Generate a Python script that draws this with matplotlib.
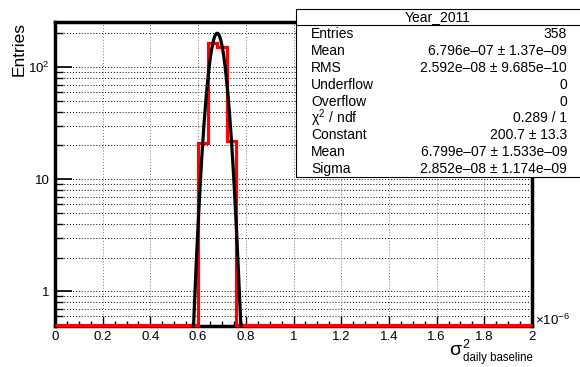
import numpy as np
import matplotlib
matplotlib.use("Agg")
import matplotlib.pyplot as plt
from matplotlib.patches import Rectangle
from matplotlib.lines import Line2D
from matplotlib.ticker import FixedLocator, NullFormatter

plt.rcParams['font.family'] = ['Liberation Sans', 'DejaVu Sans']
plt.rcParams['mathtext.fontset'] = 'custom'
plt.rcParams['mathtext.rm'] = 'Liberation Sans'
plt.rcParams['mathtext.it'] = 'Liberation Sans'
plt.rcParams['mathtext.bf'] = 'Liberation Sans:bold'

# ---- histogram data (x in units of 1e-6) ----
n_bins = 50
x_range = (0.0, 2.0)
filled_bin_first = 15            # bins 15..18 hold the entries
filled_counts = [21, 163, 152, 22]

# ---- gaussian fit result ----
fit_constant = 200.7
fit_mean = 6.799e-07
fit_sigma = 2.852e-08
fit_range = (0.58e-06, 0.78e-06)

# ---- statistics box ----
stats_title = "Year_2011"
stats_labels = ["Entries", "Mean", "RMS", "Underflow", "Overflow",
                r"$\chi^{2}$ / ndf", "Constant", "Mean", "Sigma"]
stats_values = ["358", "6.796e\u201307 \u00b1 1.37e\u201309",
                "2.592e\u201308 \u00b1 9.685e\u201310", "0", "0", "0.289 / 1",
                "200.7 \u00b1 13.3", "6.799e\u201307 \u00b1 1.533e\u201309",
                "2.852e\u201308 \u00b1 1.174e\u201309"]

x_ticks = [0, 0.2, 0.4, 0.6, 0.8, 1, 1.2, 1.4, 1.6, 1.8, 2]
x_ticklabels = ["0", "0.2", "0.4", "0.6", "0.8", "1", "1.2", "1.4", "1.6", "1.8", "2"]
y_ticks = [1, 10, 100]
y_ticklabels = ["1", "10", r"$10^{2}$"]

W, H = 580, 367
fig = plt.figure(figsize=(W / 100, H / 100), dpi=100)


def fx(px):
    return px / W


def fy(py):
    return 1 - py / H


ax_l, ax_r, ax_t, ax_b = 55, 532, 22, 326
ax = fig.add_axes([fx(ax_l), fy(ax_b), fx(ax_r - ax_l), (ax_b - ax_t) / H])

ymin, ymax = 0.49, 253
ax.set_xlim(*x_range)
ax.set_yscale('log')
ax.set_ylim(ymin, ymax)

# histogram: empty bins are drawn along the lower edge of the frame
counts = np.zeros(n_bins)
counts[filled_bin_first:filled_bin_first + len(filled_counts)] = filled_counts
edges = np.linspace(x_range[0], x_range[1], n_bins + 1)
drawn = np.where(counts > 0, counts, ymin * 1.02)
ax.stairs(drawn, edges, baseline=None, color='#ff0000', linewidth=2.3,
          zorder=4, clip_on=False)

# gaussian fit curve
xf = np.linspace(fit_range[0], fit_range[1], 600)
yf = fit_constant * np.exp(-0.5 * ((xf - fit_mean) / fit_sigma) ** 2)
yf = np.maximum(yf, ymin * 1.02)
ax.plot(xf * 1e6, yf, color='black', linewidth=2.3, zorder=5, clip_on=False)

# grid
minor_y = [v * d for d in (0.1, 1, 10, 100) for v in range(2, 10)]
minor_y = [v for v in minor_y if ymin < v < ymax]
for v in minor_y + y_ticks:
    ax.axhline(v, color='black', linewidth=0.7, linestyle=(0, (1, 2)), zorder=1)
for v in x_ticks[1:-1]:
    ax.axvline(v, color='#777777', linewidth=0.7, linestyle=(0, (1, 2)), zorder=1)

# axes ticks
ax.set_xticks(x_ticks)
ax.set_xticklabels(x_ticklabels)
ax.xaxis.set_minor_locator(FixedLocator(np.arange(0, 2.0001, 0.05)))
ax.set_yticks(y_ticks)
ax.set_yticklabels(y_ticklabels)
ax.yaxis.set_minor_locator(FixedLocator(minor_y))
ax.yaxis.set_minor_formatter(NullFormatter())
ax.tick_params(axis='x', which='major', direction='in', length=7, width=1,
               labelsize=9.5, pad=3.5, top=False)
ax.tick_params(axis='x', which='minor', direction='in', length=3.5, width=1, top=False)
ax.tick_params(axis='y', which='major', direction='in', length=12, width=1.2,
               labelsize=9.5, pad=4, right=False)
ax.tick_params(axis='y', which='minor', direction='in', length=6, width=1, right=False)

for s in ax.spines.values():
    s.set_linewidth(2.5)
    s.set_color('black')

# axis titles
fig.text(fx(12), fy(ax_t), "Entries", rotation=90, ha='left', va='top', fontsize=12.5)
fig.text(fx(535), fy(320), r"$\times10^{-6}$", ha='left', va='center', fontsize=9.5)
# x title: sigma with superscript 2 and subscript "daily baseline"
fig.text(fx(461), fy(355), "\u03c3", ha='right', va='baseline', fontsize=14)
fig.text(fx(462), fy(348), "2", ha='left', va='baseline', fontsize=9)
fig.text(fx(533), fy(361), "daily baseline", ha='right', va='baseline', fontsize=8.3)

# statistics box
box_l, box_t, box_b = 296, 9, 177
fig.patches.append(Rectangle((fx(box_l), fy(box_b)), 1.02 - fx(box_l),
                             (box_b - box_t) / H, transform=fig.transFigure,
                             facecolor='white', edgecolor='black', linewidth=0.8,
                             zorder=10))
fig.lines.append(Line2D([fx(box_l), 1.0], [fy(25), fy(25)], transform=fig.transFigure,
                        color='black', linewidth=0.8, zorder=11))
fig.text((fx(box_l) + 1.0) / 2, fy(17), stats_title, ha='center', va='center',
         fontsize=10, zorder=12)
for i, (lab, val) in enumerate(zip(stats_labels, stats_values)):
    yrow = 34 + i * 16.9
    fig.text(fx(311), fy(yrow), lab, ha='left', va='center', fontsize=10, zorder=12)
    fig.text(fx(567), fy(yrow), val, ha='right', va='center', fontsize=10, zorder=12)

fig.savefig("out.png", dpi=100)
